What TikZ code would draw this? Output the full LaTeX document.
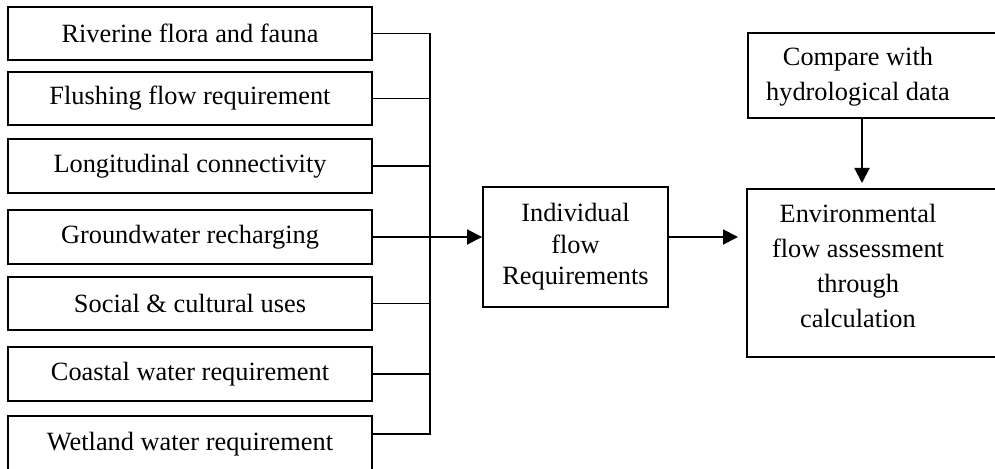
\documentclass[tikz,border=0pt]{standalone}
\usepackage{fontspec}
\setmainfont{Liberation Serif}
\usetikzlibrary{arrows.meta}
\begin{document}
\begin{tikzpicture}[x=0.02cm, y=-0.02cm, line width=1.1pt,
    factor/.style={draw, rectangle, minimum width=7.28cm, minimum height=1.07cm, inner sep=0pt, font=\fontsize{15}{20}\selectfont},
    panel/.style={draw, rectangle, inner sep=0pt},
    words/.style={align=center, inner sep=0pt, font=\fontsize{15}{20}\selectfont},
    flow/.style={-{Triangle[length=0.3cm, width=0.3cm]}}]
    \useasboundingbox (0,0) rectangle (995,469);

    % the seven flow components
    \node [factor] (F1) at (190,33.5) {Riverine flora and fauna};
    \node [factor] (F2) at (190,98.5) {Flushing flow requirement};
    \node [factor] (F3) at (190,166) {Longitudinal connectivity};
    \node [factor] (F4) at (190,237) {Groundwater recharging};
    \node [factor] (F5) at (190,303.5) {Social \& cultural uses};
    \node [factor] (F6) at (190,374) {Coastal water requirement};
    \node [factor, minimum height=1.12cm] (F7) at (190,444) {Wetland water requirement};

    \node [panel, words, minimum width=3.7cm, minimum height=2.4cm, font=\fontsize{15}{18}\selectfont] (IND) at (575.5,247) {Individual\\flow\\Requirements};

    \node [panel, anchor=north west, minimum width=5.4cm, minimum height=1.7cm] (CMP) at (747,32) {};
    \node [words] (CMPtxt) at (858,77) {Compare with\\hydrological data};
    \node [panel, anchor=north west, minimum width=5.4cm, minimum height=3.36cm] (ENV) at (746,188) {};
    \node [words] (ENVtxt) at (858,266) {Environmental\\flow assessment\\through\\calculation};

    \coordinate (bus) at (430,237);
    \coordinate (drop) at (862,0);

    % collecting line
    \draw (F1.east) -| ([yshift=0.2cm]F7.east -| bus) -- ([yshift=0.2cm]F7.east);
    \foreach \f in {F2,F3,F4,F5,F6}
        \draw (\f.east) -- (\f.east -| bus);

    \draw [flow] (bus) -- (bus -| IND.west);
    \draw [flow, shorten >=0.16cm] (bus -| IND.east) -- (bus -| ENV.west);
    \draw [flow, shorten >=0.1cm] (CMP.south -| drop) -- (ENV.north -| drop);
\end{tikzpicture}
\end{document}
